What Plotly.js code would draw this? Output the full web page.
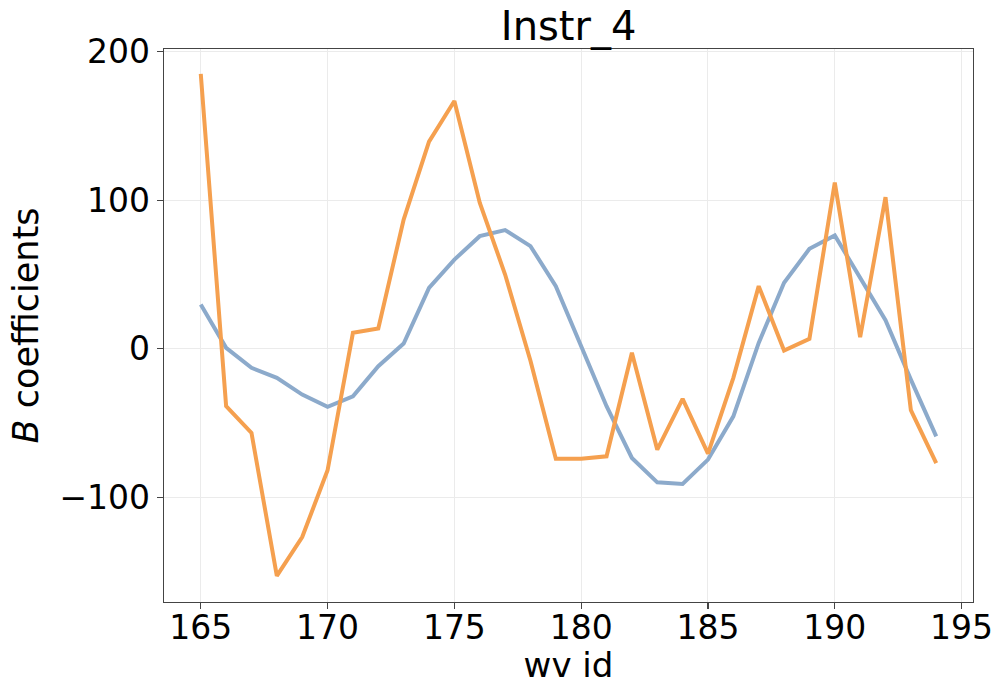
<!DOCTYPE html>
<html>
<head>
<meta charset="utf-8">
<script src="https://cdn.plot.ly/plotly-3.0.1.min.js"></script>
<style>html,body{margin:0;padding:0;background:#fff;}#chart{width:999px;height:685px;}</style>
</head>
<body>
<div id="chart"></div>
<script>
const wvIds = [165,166,167,168,169,170,171,172,173,174,175,176,177,178,179,180,181,182,183,184,185,186,187,188,189,190,191,192,193,194];
const seriesBlue = [29.8,0.7,-12.8,-19.5,-30.8,-39,-31.9,-11.7,3.6,41,60,75.8,79.9,69.1,42.2,2,-38.6,-73.4,-89.8,-90.9,-74.5,-45.4,4,44.4,67.3,76.3,47.8,19.3,-20.7,-58.9];
const seriesOrange = [185,-38.6,-56.6,-152.7,-126.6,-81.7,10.8,13.7,87,139.4,166.7,98.3,50,-8,-73.9,-74,-72.3,-2.7,-67.8,-33.7,-70.5,-19.5,42.2,-1.1,6.7,111.8,7.8,102,-41.3,-76.8];
const xTicks = [165,170,175,180,185,190,195];
const yTicks = [-100,0,100,200];
const chartTitle = "Instr_4";

const font = {family: "DejaVu Sans", color: "#000"};
const traces = [
  {x: wvIds, y: seriesBlue, type: "scatter", mode: "lines", line: {color: "#8caacb", width: 4}, showlegend: false},
  {x: wvIds, y: seriesOrange, type: "scatter", mode: "lines", line: {color: "#f5a04f", width: 4}, showlegend: false}
];
const axisCommon = {
  showline: true, mirror: true, linecolor: "#444", linewidth: 1.3,
  ticks: "outside", ticklen: 6, tickwidth: 1.3, tickcolor: "#444",
  showgrid: true, gridcolor: "#ebebeb", gridwidth: 1, zeroline: false,
  tickfont: {family: "DejaVu Sans", size: 33, color: "#000"}
};
const layout = {
  width: 999, height: 685,
  margin: {l: 164, r: 26, t: 49, b: 83},
  paper_bgcolor: "#fff", plot_bgcolor: "#fff",
  font: font,
  title: {text: chartTitle, font: {family: "DejaVu Sans", size: 40, color: "#000"}, x: 0.5692, xanchor: "center", y: 0.962, yref: "container", yanchor: "middle"},
  xaxis: Object.assign({}, axisCommon, {
    range: [163.55, 195.45], tickmode: "array", tickvals: xTicks, ticktext: xTicks.map(String),
    ticklabelstandoff: -10,
    title: {text: "wv id", font: {family: "DejaVu Sans", size: 34, color: "#000"}, standoff: 4}
  }),
  yaxis: Object.assign({}, axisCommon, {
    range: [-170.3, 201.7], tickmode: "array", tickvals: yTicks, ticktext: yTicks.map(v => v < 0 ? "\u2212" + Math.abs(v) : String(v)),
    title: {text: "<i>B</i> coefficients", font: {family: "DejaVu Sans", size: 35, color: "#000"}, standoff: 10}
  })
};
Plotly.newPlot("chart", traces, layout, {staticPlot: true, displayModeBar: false});
</script>
</body>
</html>
